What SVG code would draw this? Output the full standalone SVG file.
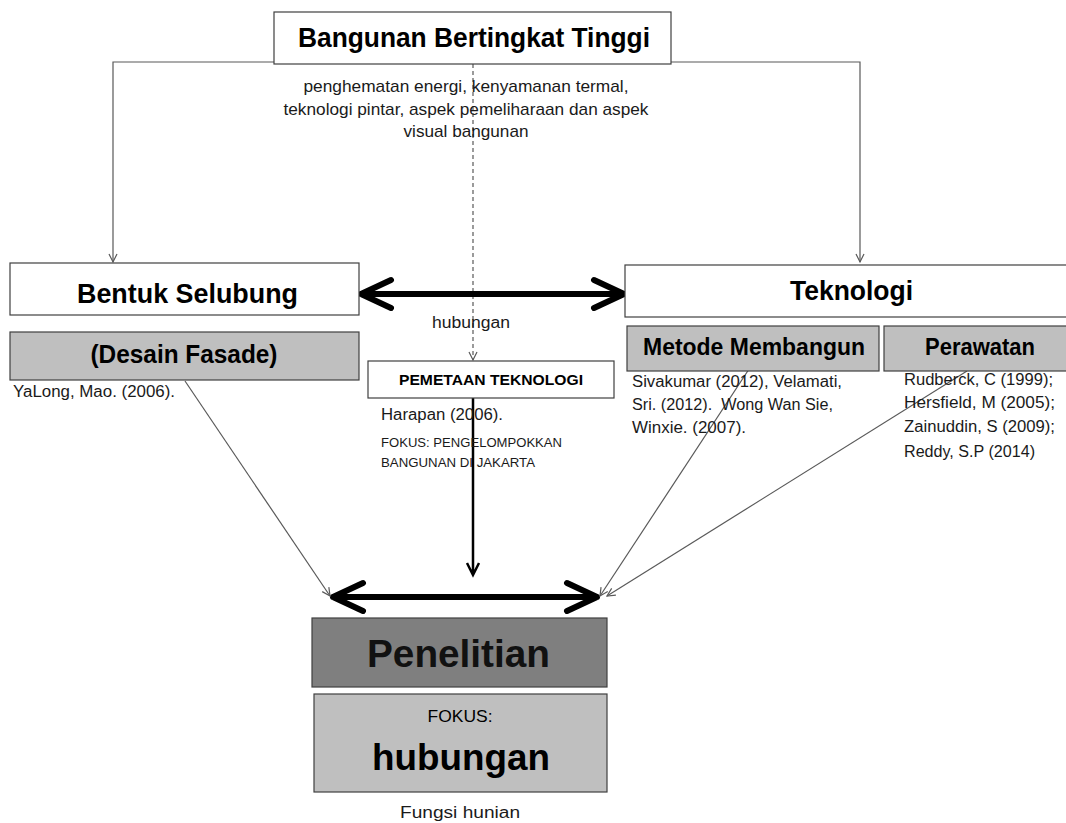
<svg xmlns="http://www.w3.org/2000/svg" width="1066" height="823" viewBox="0 0 1066 823">
<style>
text{font-family:"Liberation Sans",Arial,sans-serif;fill:#1a1a1a}
.b{font-weight:bold;fill:#000}
.box{fill:#fff;stroke:#404040;stroke-width:1.2}
.gbox{fill:#bfbfbf;stroke:#404040;stroke-width:1.2}
.dbox{fill:#7f7f7f;stroke:#404040;stroke-width:1.2}
.thin{fill:none;stroke:#595959;stroke-width:1.2}
.thick{fill:none;stroke:#000;stroke-width:6;stroke-linecap:round;stroke-linejoin:round}
</style>
<defs>
<marker id="v" markerUnits="userSpaceOnUse" markerWidth="12" markerHeight="12" refX="9" refY="5" orient="auto">
<path d="M1,1 L9,5 L1,9" fill="none" stroke="#595959" stroke-width="1.2"/>
</marker>
</defs>
<g id="connectors">
<polyline class="thin" points="274,62 113,62 113,262" marker-end="url(#v)"/>
<polyline class="thin" points="671,62 860,62 860,262" marker-end="url(#v)"/>
<line class="thin" x1="473" y1="64" x2="473" y2="360" stroke-dasharray="4,3" marker-end="url(#v)"/>
<path class="thick" d="M361,294 L624,294 M391,280 L361,294 L391,308 M594,280 L624,294 L594,308"/>
<path class="thick" d="M333,597 L597,597 M363,583 L333,597 L363,611 M567,583 L597,597 L567,611"/>
<path d="M473,398 L473,574 M467,563 L473,575 L479,563" fill="none" stroke="#000" stroke-width="2.5"/>
<line class="thin" x1="185" y1="381" x2="330" y2="596" marker-end="url(#v)"/>
<line class="thin" x1="753" y1="363" x2="600" y2="596" marker-end="url(#v)"/>
<line class="thin" x1="967" y1="371" x2="607" y2="596" marker-end="url(#v)"/>
</g>
<g id="top">
<rect class="box" x="274" y="12" width="397" height="52"/>
<text class="b" x="474" y="47" font-size="28" text-anchor="middle" textLength="352" lengthAdjust="spacingAndGlyphs">Bangunan Bertingkat Tinggi</text>
</g>
<g id="desc">
<text x="466" y="92" font-size="17" text-anchor="middle" textLength="325" lengthAdjust="spacingAndGlyphs">penghematan energi, kenyamanan termal,</text>
<text x="466" y="115" font-size="17" text-anchor="middle" textLength="365" lengthAdjust="spacingAndGlyphs">teknologi pintar, aspek pemeliharaan dan aspek</text>
<text x="466" y="137" font-size="17" text-anchor="middle" textLength="125" lengthAdjust="spacingAndGlyphs">visual bangunan</text>
</g>
<g id="bentuk">
<rect class="box" x="10" y="263" width="349" height="52"/>
<text class="b" x="187.5" y="303" font-size="27" text-anchor="middle" textLength="221" lengthAdjust="spacingAndGlyphs">Bentuk Selubung</text>
</g>
<g id="fasade">
<rect class="gbox" x="10" y="332" width="349" height="48"/>
<text class="b" x="184" y="363" font-size="25" text-anchor="middle" textLength="187" lengthAdjust="spacingAndGlyphs">(Desain Fasade)</text>
<text x="13" y="397" font-size="16" textLength="162" lengthAdjust="spacingAndGlyphs">YaLong, Mao. (2006).</text>
</g>
<g id="teknologi">
<rect class="box" x="625" y="265" width="450" height="52"/>
<text class="b" x="851.5" y="300" font-size="28" text-anchor="middle" textLength="123" lengthAdjust="spacingAndGlyphs">Teknologi</text>
</g>
<g id="metode">
<rect class="gbox" x="627" y="326" width="252" height="45"/>
<text class="b" x="754" y="355" font-size="23" text-anchor="middle" textLength="222" lengthAdjust="spacingAndGlyphs">Metode Membangun</text>
<text x="632" y="387" font-size="16" textLength="210" lengthAdjust="spacingAndGlyphs">Sivakumar (2012), Velamati,</text>
<text x="632" y="410" font-size="16" textLength="201" lengthAdjust="spacingAndGlyphs" xml:space="preserve">Sri. (2012).  Wong Wan Sie,</text>
<text x="632" y="433" font-size="16" textLength="114" lengthAdjust="spacingAndGlyphs">Winxie. (2007).</text>
</g>
<g id="perawatan">
<rect class="gbox" x="884" y="326" width="190" height="45"/>
<text class="b" x="980" y="355" font-size="23" text-anchor="middle" textLength="110" lengthAdjust="spacingAndGlyphs">Perawatan</text>
<text x="904" y="385" font-size="16" textLength="149" lengthAdjust="spacingAndGlyphs">Rudberck, C (1999);</text>
<text x="904" y="408" font-size="16" textLength="151" lengthAdjust="spacingAndGlyphs">Hersfield, M (2005);</text>
<text x="904" y="432" font-size="16" textLength="151" lengthAdjust="spacingAndGlyphs">Zainuddin, S (2009);</text>
<text x="904" y="457" font-size="16" textLength="131" lengthAdjust="spacingAndGlyphs">Reddy, S.P (2014)</text>
</g>
<g id="hubungan-label">
<text x="471" y="328" font-size="16" text-anchor="middle" textLength="78" lengthAdjust="spacingAndGlyphs">hubungan</text>
</g>
<g id="pemetaan">
<rect class="box" x="368" y="361" width="246" height="37"/>
<text class="b" x="491" y="385" font-size="15" text-anchor="middle" textLength="184" lengthAdjust="spacingAndGlyphs">PEMETAAN TEKNOLOGI</text>
<text x="381" y="420" font-size="16" textLength="122" lengthAdjust="spacingAndGlyphs">Harapan (2006).</text>
<text x="381" y="447" font-size="13" textLength="181" lengthAdjust="spacingAndGlyphs">FOKUS: PENGELOMPOKKAN</text>
<text x="381" y="467" font-size="13" textLength="154" lengthAdjust="spacingAndGlyphs">BANGUNAN DI JAKARTA</text>
</g>
<g id="penelitian">
<rect class="dbox" x="312" y="618" width="295" height="69"/>
<text class="b" x="458.5" y="667" font-size="38" text-anchor="middle" textLength="183" lengthAdjust="spacingAndGlyphs" style="fill:#111">Penelitian</text>
</g>
<g id="fokus">
<rect class="gbox" x="314" y="694" width="293" height="98"/>
<text x="460" y="722" font-size="17" text-anchor="middle" textLength="65" lengthAdjust="spacingAndGlyphs" style="fill:#000">FOKUS:</text>
<text class="b" x="461" y="770" font-size="37" text-anchor="middle" textLength="178" lengthAdjust="spacingAndGlyphs">hubungan</text>
<text x="460" y="818" font-size="16" text-anchor="middle" textLength="120" lengthAdjust="spacingAndGlyphs">Fungsi hunian</text>
</g>
</svg>
